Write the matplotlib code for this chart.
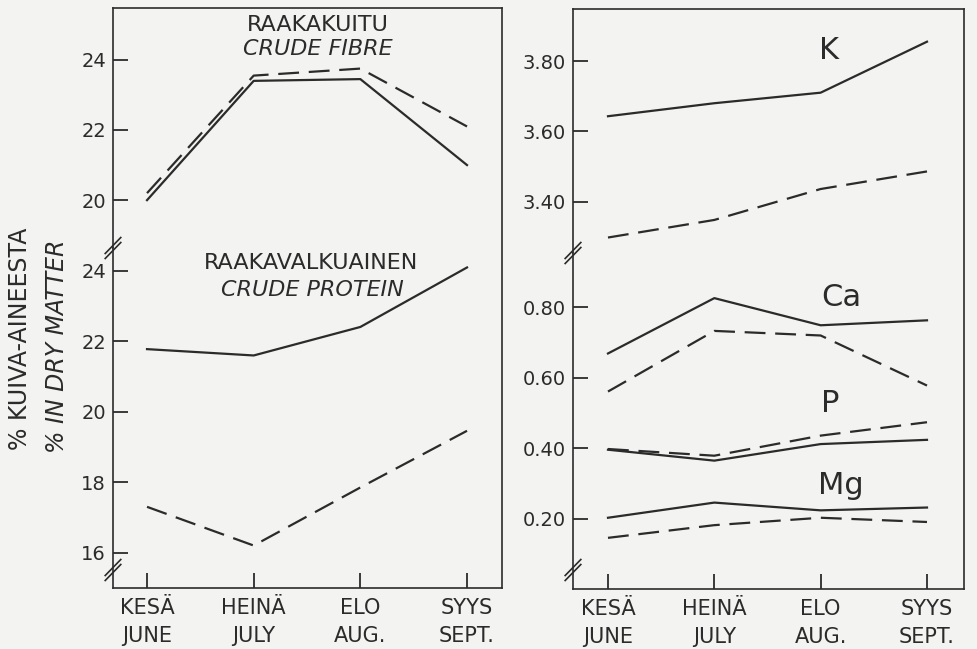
import matplotlib
matplotlib.use("Agg")
import matplotlib.pyplot as plt
from matplotlib.lines import Line2D

# months (x)
months = ["KESÄ\nJUNE", "HEINÄ\nJULY", "ELO\nAUG.", "SYYS\nSEPT."]
xs = [0, 1, 2, 3]

# left panel, % in dry matter
fibre_solid = [20.0, 23.4, 23.45, 21.0]
fibre_dash = [20.2, 23.55, 23.75, 22.1]
protein_solid = [21.78, 21.6, 22.41, 24.1]
protein_dash = [17.3, 16.2, 17.85, 19.46]

# right panel, minerals
k_solid = [3.643, 3.68, 3.71, 3.855]
k_dash = [3.298, 3.348, 3.436, 3.486]
ca_solid = [0.669, 0.826, 0.749, 0.763]
ca_dash = [0.561, 0.733, 0.72, 0.578]
p_solid = [0.396, 0.365, 0.412, 0.424]
p_dash = [0.398, 0.379, 0.436, 0.474]
mg_solid = [0.203, 0.246, 0.224, 0.232]
mg_dash = [0.146, 0.182, 0.203, 0.191]

left_top_ticks = [20, 22, 24]
left_bot_ticks = [16, 18, 20, 22, 24]
right_top_ticks = [3.40, 3.60, 3.80]
right_bot_ticks = [0.20, 0.40, 0.60, 0.80]

ink = "#2b2b2b"
bg = "#f3f3f1"
plt.rcParams["font.family"] = ["DejaVu Sans"]
plt.rcParams["lines.scale_dashes"] = False
plt.rcParams["text.color"] = ink

W, H = 977, 649
fig = plt.figure(figsize=(W / 100, H / 100), dpi=100, facecolor=bg)


def box(x0, x1, y0, y1):
    return [x0 / W, 1 - y1 / H, (x1 - x0) / W, (y1 - y0) / H]


def style(ax, top):
    ax.set_facecolor(bg)
    for s in ax.spines.values():
        s.set_color(ink)
        s.set_linewidth(1.2)
    ax.spines["right"].set_visible(False)
    if top:
        ax.spines["bottom"].set_visible(False)
        ax.set_xticks([])
    else:
        ax.spines["top"].set_visible(False)
    ax.tick_params(direction="in", length=11, width=1.3, color=ink,
                   labelcolor=ink, labelsize=14, pad=5)
    ax.tick_params(axis="x", labelsize=15, pad=7)


def right_edge(x, y0, y1):
    fig.add_artist(Line2D([x / W, x / W], [1 - y0 / H, 1 - y1 / H],
                          transform=fig.transFigure, color=ink, lw=1.2))


def brk(ax, yfrac):
    h = ax.get_window_extent().height
    dy = 8.0 / h
    for off in (-2.5, 2.5):
        ax.plot([-0.02, 0.02], [yfrac - dy + off / h, yfrac + dy + off / h],
                transform=ax.transAxes, color=ink, lw=1.2, clip_on=False)


dash = dict(color=ink, lw=1.6, linestyle=(0, (15, 7)))
solid = dict(color=ink, lw=1.6)

# left panel
lt = fig.add_axes(box(113, 502, 8, 248))
lb = fig.add_axes(box(113, 502, 248, 588))
for ax in (lt, lb):
    ax.set_xlim(-0.319, 3.328)
lt.set_ylim(18.636, 25.477)
lb.set_ylim(14.994, 24.653)
style(lt, True)
style(lb, False)
right_edge(502, 8, 588)
lt.set_yticks(left_top_ticks)
lb.set_yticks(left_bot_ticks)
lb.set_xticks(xs, labels=months)

lt.plot(xs, fibre_solid, **solid)
lt.plot(xs, fibre_dash, **dash)
lb.plot(xs, protein_solid, **solid)
lb.plot(xs, protein_dash, **dash)

lt.text(1.60, 24.99, "RAAKAKUITU", ha="center", va="center", fontsize=16)
lt.text(1.60, 24.31, "CRUDE FIBRE", ha="center", va="center", fontsize=16,
        style="italic")
lb.text(1.54, 24.23, "RAAKAVALKUAINEN", ha="center", va="center",
        fontsize=16, clip_on=False)
lb.text(1.55, 23.46, "CRUDE PROTEIN", ha="center", va="center",
        fontsize=16, style="italic")

# right panel
rt = fig.add_axes(box(573, 964, 9, 253))
rb = fig.add_axes(box(573, 964, 253, 589))
for ax in (rt, rb):
    ax.set_xlim(-0.329, 3.348)
rt.set_ylim(3.254, 3.948)
rb.set_ylim(0.0009, 0.954)
style(rt, True)
style(rb, False)
right_edge(964, 9, 589)
rt.set_yticks(right_top_ticks, labels=[f"{v:.2f}" for v in right_top_ticks])
rb.set_yticks(right_bot_ticks, labels=[f"{v:.2f}" for v in right_bot_ticks])
rb.set_xticks(xs, labels=months)

rt.plot(xs, k_solid, **solid)
rt.plot(xs, k_dash, **dash)
for s, d in ((ca_solid, ca_dash), (p_solid, p_dash), (mg_solid, mg_dash)):
    rb.plot(xs, s, **solid)
    rb.plot(xs, d, **dash)

rt.text(2.08, 3.831, "K", ha="center", va="center", fontsize=22)
rb.text(2.19, 0.828, "Ca", ha="center", va="center", fontsize=22)
rb.text(2.09, 0.527, "P", ha="center", va="center", fontsize=22)
rb.text(2.19, 0.294, "Mg", ha="center", va="center", fontsize=22)

for ax in (lb, rb):
    for lab in ax.get_xticklabels():
        lab.set_linespacing(1.5)

# axis breaks
brk(lb, 1.0)
brk(lb, 18 / 340)
brk(rb, 1.0)
brk(rb, 19 / 336)

fig.text(20 / W, 1 - 339 / H, "% KUIVA-AINEESTA", rotation=90, ha="center",
         va="center", fontsize=17)
fig.text(57 / W, 1 - 346 / H, "% IN DRY MATTER", rotation=90, ha="center",
         va="center", fontsize=17, style="italic")

fig.savefig("out.png", dpi=100, facecolor=bg)
